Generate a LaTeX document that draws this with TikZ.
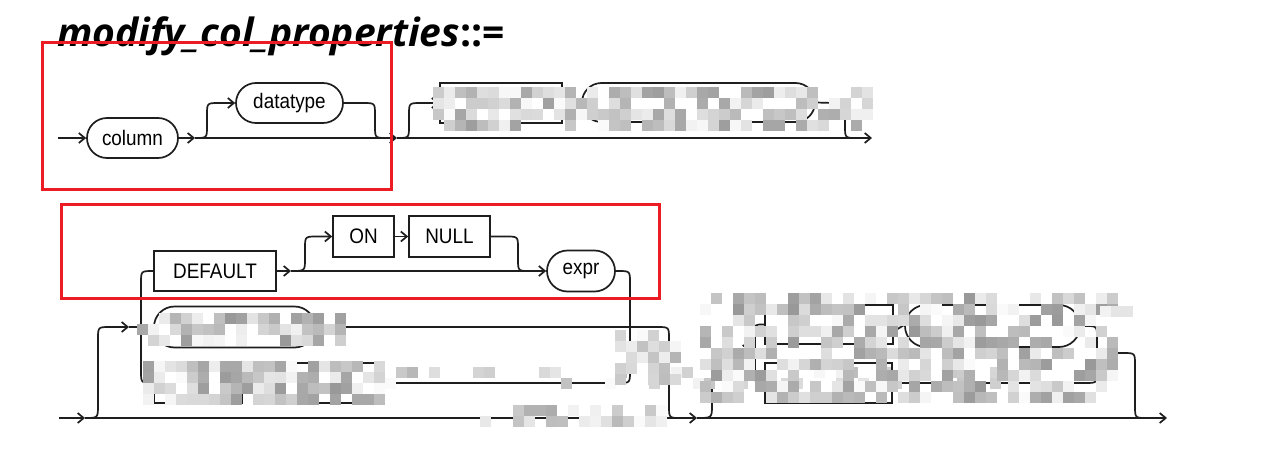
\documentclass[tikz,border=0pt]{standalone}
\usepackage{graphicx}
\usepackage{fontspec}
\setmainfont{Liberation Sans}
\newfontfamily\titlefont{Open Sans}
\usetikzlibrary{arrows.meta,shapes.misc}
\definecolor{ln}{RGB}{30,30,30}
\definecolor{redframe}{RGB}{237,28,36}
\newcommand{\lab}{\fontsize{21}{24}\selectfont}
\newcommand{\lbl}[1]{\scalebox{0.9}[1]{#1}}
\newcommand{\mymosaic}[6]{%
  \foreach \mi in {0,...,#3}{%
    \foreach \mj in {0,...,#4}{%
      \pgfmathrandominteger{\mosr}{0}{99}%
      \ifnum\mosr<#5\relax\else
        \pgfmathrandominteger{\mosg}{2}{#6}%
        \fill[black!\mosg] ({#1+11*\mi},{#2+11*\mj}) rectangle ++(11,11);
      \fi
    }%
  }%
}
\begin{document}
\begin{tikzpicture}[x=1pt,y=-1pt,
  rr/.style={draw=ln, line width=1.7pt, rounded rectangle, minimum height=40pt, inner sep=0pt, font=\lab},
  kw/.style={draw=ln, line width=1.7pt, rectangle, minimum height=40pt, inner sep=0pt, font=\lab},
  conn/.style={draw=ln, line width=1.7pt},
  arr/.style={conn, -{Straight Barb[length=6pt,width=10pt]}},
  frame/.style={draw=redframe, line width=3pt}]
\fill[white] (0,0) rectangle (1274,455);
\useasboundingbox (0,0) rectangle (1274,455);
\pgfmathsetseed{12345}

% title
\node[anchor=base west, inner sep=0pt, font=\titlefont\fontsize{39}{42}\selectfont\bfseries] (title) at (57,46) {\itshape modify\_col\_properties\upshape::=};

% ---------- row 1 ----------
\node[rr, minimum width=91pt] (column) at (132.5,138) {\lbl{column}};
\node[rr, minimum width=107pt] (datatype) at (289.5,103) {\lbl{datatype}};
\node[kw, minimum width=122pt] (hidA) at (501,103) {};
\node[rr, minimum width=233pt, minimum height=39pt] (hidB) at (698.5,102.5) {};
\coordinate (r1in) at (58,138);
\coordinate (r1a) at (195,138);
\coordinate (r1b) at (397,138);
\coordinate (r1out) at (872,138);

\draw[arr] (r1in) -- (column.west);
\draw[arr] (column.east) -- (r1a);
\draw[arr] (r1a) -- (r1b);
\draw[arr] (r1b) -- (r1out);
\draw[arr] (r1a) .. controls (207,138) .. (207,126) -- (207,115) .. controls (207,103) .. (219,103) -- (datatype.west);
\draw[conn] (datatype.east) -- (363,103) .. controls (375,103) .. (375,115) -- (375,126) .. controls (375,138) .. (387,138);
\draw[arr] (r1b) .. controls (409,138) .. (409,126) -- (409,115) .. controls (409,103) .. (421,103) -- (hidA.west);
\draw[arr] (hidA.east) -- (hidB.west);
\draw[conn] (hidB.east) -- (833,103) .. controls (845,103) .. (845,115) -- (845,126) .. controls (845,138) .. (857,138);

% ---------- row 2 ----------
\node[kw, minimum width=122pt] (default) at (215,271) {\lbl{DEFAULT}};
\node[kw, minimum width=61pt, minimum height=41pt] (on) at (363.5,236.5) {\lbl{ON}};
\node[kw, minimum width=81pt, minimum height=41pt] (null) at (449.5,236.5) {\lbl{NULL}};
\node[rr, minimum width=68pt, minimum height=41pt] (expr) at (581,271) {\lbl{expr}};
\node[rr, minimum width=161pt, minimum height=41pt] (ident) at (234.5,327) {};
\node[kw, minimum width=88pt] (dropk) at (198,383) {};
\node[kw, minimum width=120pt] (identk) at (318,383) {};

\coordinate (d1) at (291,271);
\draw[arr] (default.east) -- (d1);
\draw[arr] (d1) -- (expr.west);
\draw[arr] (d1) .. controls (305,271) .. (305,259) -- (305,248.5) .. controls (305,236.5) .. (317,236.5) -- (on.west);
\draw[arr] (on.east) -- (null.west);
\draw[conn] (null.east) -- (506,236.5) .. controls (518,236.5) .. (518,248.5) -- (518,259) .. controls (518,271) .. (530,271);
\draw[conn] (default.west) -- (153,271) .. controls (141,271) .. (141,283) -- (141,371) .. controls (141,383) .. (153,383) -- (dropk.west);
\draw[conn] (dropk.east) -- (identk.west);
\draw[conn] (expr.east) -- (618,271) .. controls (630,271) .. (630,283) -- (630,371) .. controls (630,383) .. (618,383) -- (identk.east);
\draw[conn] (ident.east) -- (657,327) .. controls (669,327) .. (669,339) -- (669,406) .. controls (669,418) .. (681,418);

% bottom main line
\coordinate (b0) at (59,418);
\coordinate (b1) at (85,418);
\coordinate (b2) at (697,418);
\coordinate (b3) at (1167,418);
\coordinate (b4) at (129,327);
\draw[arr] (b0) -- (b1);
\draw[arr] (b1) -- (b2);
\draw[arr] (b2) -- (b3);
\draw[arr] (b1) .. controls (98,418) .. (98,405) -- (98,339) .. controls (98,327) .. (110,327) -- (b4);
\draw[conn] (b4) -- (ident.west);

% ---------- right group ----------
\node[kw, minimum width=128pt, minimum height=39pt] (enc) at (829,324.5) {};
\node[rr, minimum width=175pt, minimum height=42pt] (encspec) at (992.5,326) {};
\node[kw, minimum width=127pt] (decr) at (828.5,383) {};
\coordinate (g1) at (750,350);
\draw[arr] (b2) .. controls (712,418) .. (712,405) -- (712,362) .. controls (712,350) .. (724,350) -- (g1);
\draw[conn] (g1) -- (755,350);
\draw[conn] (enc.west) -- (763,324.5) .. controls (755,324.5) .. (755,332) -- (755,375) .. controls (755,383) .. (763,383) -- (decr.west);
\draw[arr] (enc.east) -- (encspec.west);
\draw[conn] (decr.east) -- (1085,383) .. controls (1097,383) .. (1097,371) -- (1097,365) .. controls (1097,353) .. (1109,353) -- (1123,353) .. controls (1135,353) .. (1135,365) -- (1135,406) .. controls (1135,418) .. (1147,418);
\draw[conn] (encspec.east) -- (1085,326) .. controls (1097,326) .. (1097,338) -- (1097,353);

% ---------- mosaic (pixelated areas) ----------
\mymosaic{433}{87}{39}{3}{25}{38}
\mymosaic{137}{313}{18}{2}{20}{40}
\mymosaic{143}{361}{21}{3}{15}{40}
\mymosaic{385}{367}{55}{1}{72}{30}
\mymosaic{480}{405}{16}{1}{40}{32}
\mymosaic{615}{330}{5}{4}{40}{32}
\mymosaic{700}{293}{37}{9}{35}{40}
\mymosaic{1100}{295}{5}{1}{60}{22}

% ---------- red annotation frames ----------
\draw[frame] (42,42) rectangle (391,189);
\draw[frame] (61,204) rectangle (659,298);
\end{tikzpicture}
\end{document}
